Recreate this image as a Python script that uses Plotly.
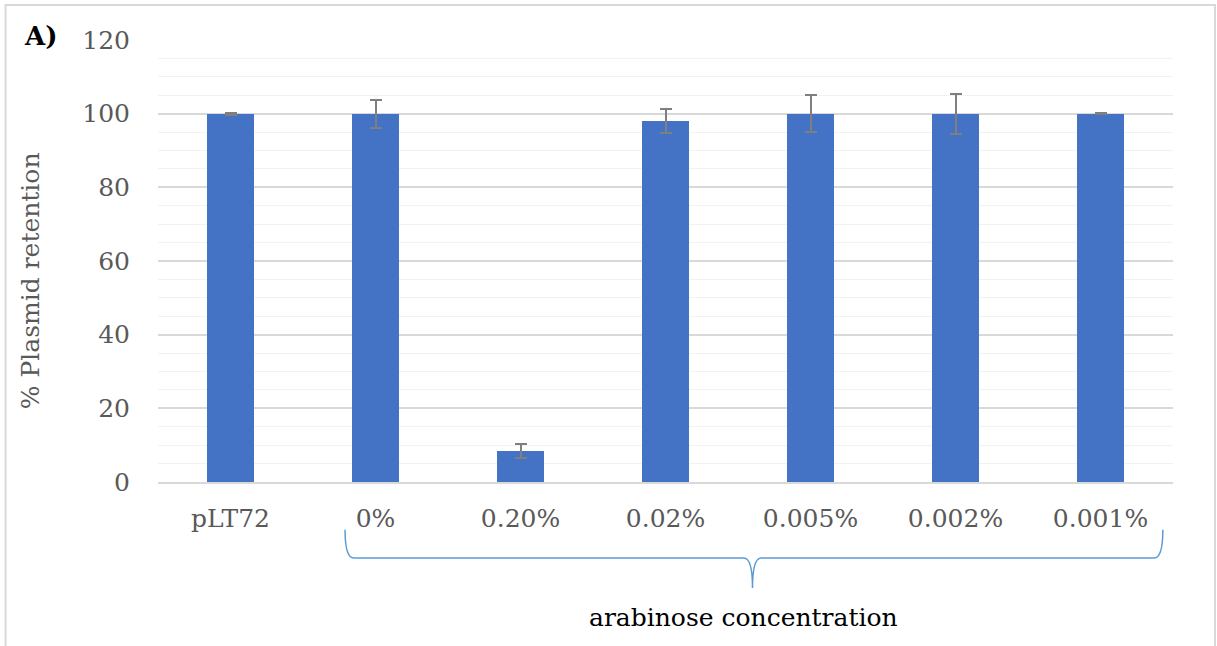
import plotly.graph_objects as go

# Plasmid retention after growth at different arabinose concentrations
categories = ["pLT72", "0%", "0.20%", "0.02%", "0.005%", "0.002%", "0.001%"]
retention = [100, 100, 8.4, 98, 100, 100, 100]
retention_err = [0.3, 3.8, 2.0, 3.2, 5.1, 5.4, 0.2]

SERIF = "DejaVu Serif"
TICK_GREY = "#595959"
BRACE_BLUE = "#5b9bd5"

fig = go.Figure(
    go.Bar(
        x=categories,
        y=retention,
        width=0.33,
        marker=dict(color="#4472c4", line=dict(width=0)),
        error_y=dict(
            type="data",
            array=retention_err,
            visible=True,
            color="#7f7f7f",
            thickness=2,
            width=6,
        ),
    )
)

# Brace grouping the arabinose conditions (x in category index units)
brace = (
    "M 0.79,-0.108 Q 0.79,-0.172 0.85,-0.172 "
    "L 3.54,-0.172 Q 3.60,-0.172 3.60,-0.24 "
    "Q 3.60,-0.172 3.66,-0.172 "
    "L 6.37,-0.172 Q 6.43,-0.172 6.43,-0.108"
)

fig.update_layout(
    width=1217,
    height=646,
    margin=dict(l=158, r=44, t=40, b=164),
    paper_bgcolor="white",
    plot_bgcolor="white",
    showlegend=False,
    bargap=0,
    font=dict(family=SERIF, size=25, color=TICK_GREY),
    xaxis=dict(
        type="category",
        showgrid=False,
        showline=True,
        linecolor="#d9d9d9",
        linewidth=1.5,
        ticks="outside",
        ticklen=13,
        tickcolor="rgba(0,0,0,0)",
        tickfont=dict(family=SERIF, size=25, color=TICK_GREY),
    ),
    yaxis=dict(
        range=[0, 120],
        dtick=20,
        showgrid=True,
        gridcolor="#d9d9d9",
        gridwidth=1.5,
        zeroline=False,
        showline=False,
        ticks="outside",
        ticklen=22,
        tickcolor="rgba(0,0,0,0)",
        tickfont=dict(family=SERIF, size=25, color=TICK_GREY),
        minor=dict(dtick=5, showgrid=True, gridcolor="#f2f2f2", gridwidth=1),
    ),
    shapes=[
        dict(
            type="rect",
            xref="paper",
            yref="paper",
            x0=-0.1502,
            x1=1.0414,
            y0=-0.5,
            y1=1.0790,
            line=dict(color="#d9d9d9", width=2),
            fillcolor="rgba(0,0,0,0)",
            layer="below",
        ),
        dict(
            type="path",
            xref="x",
            yref="paper",
            path=brace,
            line=dict(color=BRACE_BLUE, width=1.5),
        ),
    ],
    annotations=[
        dict(
            text="% Plasmid retention",
            xref="paper",
            yref="paper",
            x=-0.141,
            y=0.455,
            textangle=-90,
            showarrow=False,
            font=dict(family=SERIF, size=25, color=TICK_GREY),
        ),
        dict(
            text="arabinose concentration",
            xref="paper",
            yref="paper",
            x=0.577,
            y=-0.345,
            showarrow=False,
            font=dict(family=SERIF, size=25, color="black"),
        ),
        dict(
            text="A)",
            xref="paper",
            yref="paper",
            x=-0.134,
            y=1.01,
            xanchor="left",
            yanchor="middle",
            showarrow=False,
            font=dict(family=SERIF, size=26, color="black", weight="bold"),
        ),
    ],
)

fig.write_html("out.html")
